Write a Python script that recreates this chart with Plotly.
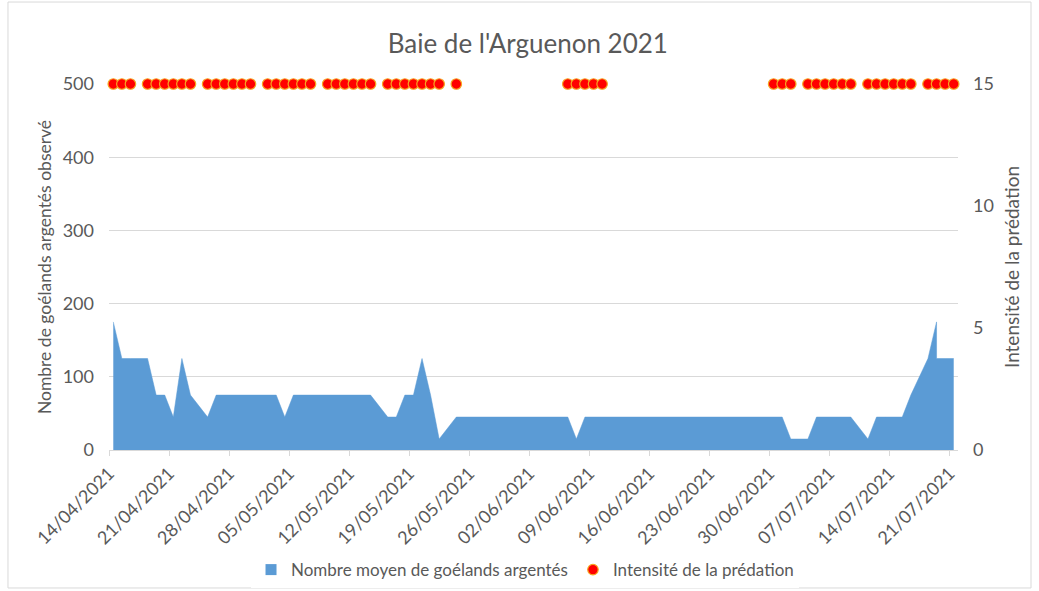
import pandas as pd
import plotly.graph_objects as go

# ---- data ----
area_dates = [
    "14/04/2021", "15/04/2021", "16/04/2021", "18/04/2021", "19/04/2021", "20/04/2021",
    "21/04/2021", "22/04/2021", "23/04/2021", "25/04/2021", "26/04/2021", "27/04/2021",
    "28/04/2021", "29/04/2021", "30/04/2021", "02/05/2021", "03/05/2021", "04/05/2021",
    "05/05/2021", "06/05/2021", "07/05/2021", "09/05/2021", "10/05/2021", "11/05/2021",
    "12/05/2021", "13/05/2021", "14/05/2021", "16/05/2021", "17/05/2021", "18/05/2021",
    "19/05/2021", "20/05/2021", "21/05/2021", "22/05/2021", "24/05/2021", "06/06/2021",
    "07/06/2021", "08/06/2021", "09/06/2021", "10/06/2021", "30/06/2021", "01/07/2021",
    "02/07/2021", "04/07/2021", "05/07/2021", "06/07/2021", "07/07/2021", "08/07/2021",
    "09/07/2021", "11/07/2021", "12/07/2021", "13/07/2021", "14/07/2021", "15/07/2021",
    "16/07/2021", "18/07/2021", "19/07/2021", "19/07/2021", "20/07/2021", "21/07/2021",
]
gull_counts = [
    175, 125, 125, 125, 75, 75,
    45, 125, 75, 45, 75, 75,
    75, 75, 75, 75, 75, 45,
    75, 75, 75, 75, 75, 75,
    75, 75, 75, 45, 45, 75,
    75, 125, 75, 15, 45, 45,
    15, 45, 45, 45, 45, 45,
    15, 15, 45, 45, 45, 45,
    45, 15, 45, 45, 45, 45,
    75, 125, 175, 125, 125, 125,
]

predation_dates = [
    "14/04/2021", "15/04/2021", "16/04/2021",
    "18/04/2021", "19/04/2021", "20/04/2021", "21/04/2021", "22/04/2021", "23/04/2021",
    "25/04/2021", "26/04/2021", "27/04/2021", "28/04/2021", "29/04/2021", "30/04/2021",
    "02/05/2021", "03/05/2021", "04/05/2021", "05/05/2021", "06/05/2021", "07/05/2021",
    "09/05/2021", "10/05/2021", "11/05/2021", "12/05/2021", "13/05/2021", "14/05/2021",
    "16/05/2021", "17/05/2021", "18/05/2021", "19/05/2021", "20/05/2021", "21/05/2021", "22/05/2021",
    "24/05/2021",
    "06/06/2021", "07/06/2021", "08/06/2021", "09/06/2021", "10/06/2021",
    "30/06/2021", "01/07/2021", "02/07/2021",
    "04/07/2021", "05/07/2021", "06/07/2021", "07/07/2021", "08/07/2021", "09/07/2021",
    "11/07/2021", "12/07/2021", "13/07/2021", "14/07/2021", "15/07/2021", "16/07/2021",
    "18/07/2021", "19/07/2021", "20/07/2021", "21/07/2021",
]
predation_intensity = [15] * len(predation_dates)

tick_labels = [
    "14/04/2021", "21/04/2021", "28/04/2021", "05/05/2021", "12/05/2021", "19/05/2021",
    "26/05/2021", "02/06/2021", "09/06/2021", "16/06/2021", "23/06/2021", "30/06/2021",
    "07/07/2021", "14/07/2021", "21/07/2021",
]

# ---- figure ----
FONT = "Lato"
GREY = "#595959"
BLUE = "#5B9BD5"
AREA_NAME = "Nombre moyen de goélands argentés"

ax = pd.to_datetime(area_dates, format="%d/%m/%Y")
px_ = pd.to_datetime(predation_dates, format="%d/%m/%Y")
half_day = pd.Timedelta(hours=12)
tv = pd.to_datetime(tick_labels, format="%d/%m/%Y") - half_day

# date axis: each day occupies one slot, ticks on slot boundaries (Excel style)
x0 = pd.to_datetime(tick_labels[0], format="%d/%m/%Y") - half_day
x1 = pd.to_datetime(tick_labels[-1], format="%d/%m/%Y") + half_day

fig = go.Figure()
fig.add_trace(go.Scatter(
    x=ax, y=gull_counts, mode="lines", fill="tozeroy",
    line=dict(color=BLUE, width=0.5), fillcolor=BLUE,
    name=AREA_NAME, yaxis="y", showlegend=False,
))
# legend entry (square swatch, as in the original)
fig.add_trace(go.Scatter(
    x=[None], y=[None], mode="markers",
    marker=dict(symbol="square", color=BLUE, size=11),
    name=AREA_NAME, yaxis="y",
))
fig.add_trace(go.Scatter(
    x=px_, y=predation_intensity, mode="markers", cliponaxis=False,
    marker=dict(color="#FF0000", size=10.5, line=dict(color="#F6A623", width=1.2)),
    name="Intensité de la prédation", yaxis="y2",
))

fig.update_layout(
    width=1039, height=591,
    margin=dict(l=109, r=81, t=84, b=141, autoexpand=False),
    paper_bgcolor="white", plot_bgcolor="white",
    font=dict(family=FONT, color=GREY, size=17),
    title=dict(text="Baie de l'Arguenon 2021", x=0.508, xanchor="center",
               y=1 - 44 / 591, yanchor="middle", yref="container",
               font=dict(size=26, color=GREY, family=FONT)),
    xaxis=dict(
        type="date", range=[x0, x1], tickmode="array", tickvals=tv, ticktext=tick_labels,
        tickangle=-45, showgrid=False, showline=True, linecolor="#D9D9D9", linewidth=1,
        ticks="outside", ticklen=5, tickcolor="#D9D9D9", tickfont=dict(size=18, color=GREY),
        zeroline=False, automargin=False,
    ),
    yaxis=dict(
        range=[0, 500], tickvals=[0, 100, 200, 300, 400, 500], showgrid=True,
        gridcolor="#D9D9D9", gridwidth=1, zeroline=False, showline=False,
        tickfont=dict(size=18, color=GREY), ticks="", ticklabelstandoff=14,
        automargin=False,
        title=dict(text="Nombre de goélands argentés observé", font=dict(size=17.5, color=GREY), standoff=6),
    ),
    yaxis2=dict(
        range=[0, 15], tickvals=[0, 5, 10, 15], overlaying="y", side="right",
        showgrid=False, zeroline=False, showline=False, ticks="",
        tickfont=dict(size=18, color=GREY), ticklabelstandoff=14,
        automargin=False,
        title=dict(text="Intensité de la prédation", font=dict(size=19, color=GREY), standoff=12),
    ),
    legend=dict(orientation="h", x=0.49, xanchor="center", y=-0.328, yanchor="middle",
                font=dict(size=17, color=GREY), itemwidth=30,
                traceorder="normal"),
    showlegend=True,
)
fig.add_shape(type="rect", xref="paper", yref="paper",
              x0=-0.119, x1=1.086, y0=-0.377, y1=1.224,
              line=dict(color="#D9D9D9", width=1), layer="below")

fig.write_html(
    "out.html",
    config={"displayModeBar": False},
    post_script="document.body.style.margin='0px';document.body.style.overflow='hidden';",
)
